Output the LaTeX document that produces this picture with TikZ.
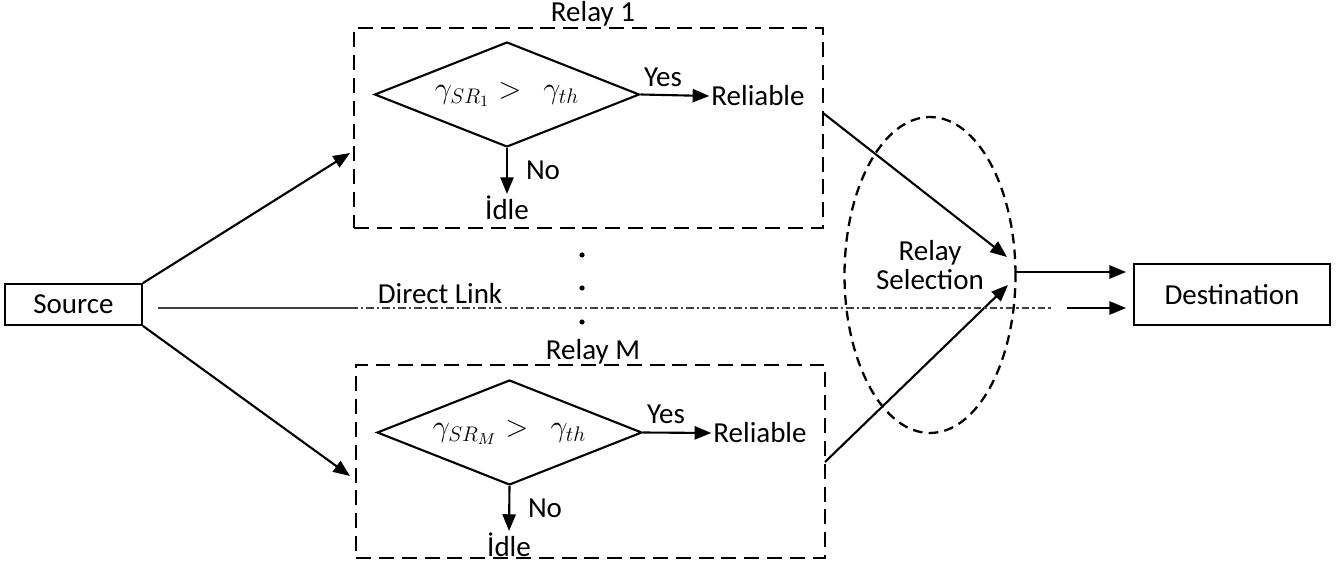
\documentclass[tikz,border=0pt]{standalone}
\usepackage{amsmath}
\usepackage{fontspec}
\setmainfont{Carlito}
\usepackage{tikz}
\usetikzlibrary{positioning, shapes.geometric, arrows.meta}

\tikzset{
    relaybox/.style = {draw, line width=1.4pt, dash pattern=on 8.5pt off 4.5pt, minimum width=9.38cm},
    test/.style = {draw, diamond, aspect=2.51, line width=1.2pt, inner sep=0pt, minimum width=5.3cm, minimum height=2.1cm},
    endbox/.style = {draw, line width=1pt, minimum height=0.82cm},
    arr/.style = {line width=1.2pt, -{Triangle[length=9.5pt, width=7.5pt]}},
    lbl/.style = {inner sep=1pt}
}

\begin{document}
\begin{tikzpicture}[x=0.02cm, y=-0.02cm, font=\fontsize{16.5}{17}\selectfont]
        \useasboundingbox (0,0) rectangle (1343,571);

        \node[endbox, minimum width=2.74cm] (src) at (73.5,304.5) {Source};
        \node[endbox, minimum width=3.92cm, minimum height=1.22cm] (dst) at (1232,294.5) {Destination};

        \node[relaybox, minimum height=4cm] (r1) at (588.5,128) {};
        \node[lbl] (r1t) at (593,14) {Relay 1};
        \node[test] (d1) at (507,94.5) {\fontsize{18}{18}\selectfont$\gamma_{SR_1} >\;\, \gamma_{th}$};
        \node[lbl] (rel1) at (758,96) {Reliable};
        \node[lbl] (yes1) at (663,77) {Yes};
        \node[lbl] (idle1) at (507,208) {İdle};
        \node[lbl] (no1) at (543,170) {No};

        \node[relaybox, minimum height=3.86cm] (rM) at (590.5,461.5) {};
        \node[lbl] (rMt) at (593,352) {Relay M};
        \node[test] (dM) at (509.5,432.5) {\fontsize{18}{18}\selectfont$\gamma_{SR_M} >\;\, \gamma_{th}$};
        \node[lbl] (relM) at (760,433) {Reliable};
        \node[lbl] (yesM) at (666,414) {Yes};
        \node[lbl] (idleM) at (509,545) {İdle};
        \node[lbl] (noM) at (545,508) {No};

        \node[draw, ellipse, line width=1.3pt, dash pattern=on 5.5pt off 3.5pt, minimum width=3.42cm, minimum height=6.32cm] (sel) at (930,275) {};
        \node[lbl, align=center] (selt) at (930,265) {Relay\\Selection};
        \node[lbl] (dl) at (440,294) {Direct Link};

        \foreach \y/\n in {255/a, 288/b, 322/c}
            \fill (582,\y) circle (2.6) coordinate (dot\n);

        \coordinate (in1) at (350,153);
        \coordinate (inM) at (350,476);
        \coordinate (out1) at (823,113);
        \coordinate (outM) at (825,462);
        \coordinate (s1) at (1007,257);
        \coordinate (sM) at (1008,285);
        \coordinate (sout) at (1016,272);
        \coordinate (dl0) at (158,308);
        \coordinate (dl1) at (350,308);
        \coordinate (dl2) at (1053,308);
        \coordinate (dl3) at (1067,308);

        \draw[arr] (src.north east) -- (in1);
        \draw[arr] (src.south east) -- (inM);
        \draw[arr] (d1.east) -- (rel1.west);
        \draw[arr] (d1.south) -- (idle1.north);
        \draw[arr] (dM.east) -- (relM.west);
        \draw[arr] (dM.south) -- (idleM.north);
        \draw[arr] (out1) -- (s1);
        \draw[arr] (outM) -- (sM);
        \draw[arr] (sout) -- ([xshift=-4pt]dst.west |- sout);

        \draw[black!75, line width=1pt] (dl0) -- (dl1);
        \draw[black!75, line width=1pt, dash pattern=on 4.5pt off 1.7pt on 1.2pt off 1.7pt] (dl1) -- (dl2);
        \draw[arr] (dl3) -- ([xshift=-4pt]dst.west |- dl3);
    \end{tikzpicture}
\end{document}
